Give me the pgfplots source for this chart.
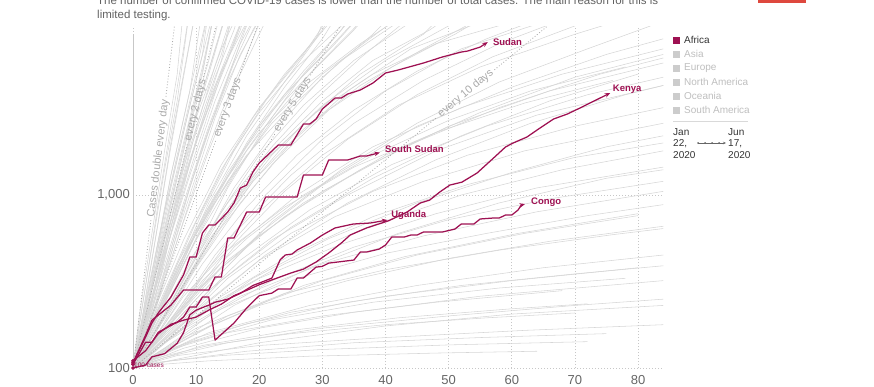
\documentclass[border=0pt]{standalone}
\usepackage{fontspec}
\setmainfont{Liberation Sans}
\usepackage{pgfplots}
\pgfplotsset{compat=1.18}
\usetikzlibrary{arrows.meta}
\definecolor{afr}{RGB}{158,17,82}
\definecolor{gl}{RGB}{214,214,214}
\definecolor{dbl}{RGB}{170,170,170}
\definecolor{tickc}{RGB}{102,102,102}
\definecolor{legg}{RGB}{190,190,190}
\pgfplotsset{gls/.style={color=gl, line width=0.55pt, line join=round, forget plot},
  afrs/.style={color=afr, line width=1.25pt, line join=round, -{Stealth[length=5.5pt,width=4.5pt]}},
  dbls/.style={color=dbl, line width=0.8pt, dash pattern=on 0.9pt off 2pt}}
\newcommand\g[1]{\addplot[gls] coordinates {#1};}
\begin{document}
\begin{tikzpicture}
\useasboundingbox (0,0) rectangle (874pt,-386pt);
\clip (0,0) rectangle (874pt,-386pt);
\node[anchor=base west, inner sep=0, font=\fontsize{11.5}{13}\selectfont, text=black!62] at (97pt,-4pt) {The number of confirmed COVID-19 cases is lower than the number of total cases. The main reason for this is};
\node[anchor=base west, inner sep=0, font=\fontsize{11.5}{13}\selectfont, text=black!62] at (97pt,-18pt) {limited testing.};
\fill[fill={rgb,255:red,222;green,72;blue,62}] (758pt,0pt) rectangle (806pt,-3pt);
\begin{axis}[
  at={(133pt,-368pt)}, anchor=south west,
  scale only axis, width=530.25pt, height=341.3pt,
  xmin=0, xmax=84, ymode=log, ymin=100, ymax=9400,
  clip mode=individual,
  axis line style={draw=none},
  major tick length=0pt, minor tick length=0pt, tick pos=left,
  xtick={0,10,...,80}, ytick={100,1000}, yticklabels={100,{1,000}},
  xmajorgrids, ymajorgrids,
  grid style={color=black!22, line width=0.6pt, dash pattern=on 1pt off 2pt},
  ticklabel style={font=\fontsize{13}{13}\selectfont, text=tickc},
  /pgf/number format/assume math mode=true,
  xticklabel style={anchor=north, inner sep=0pt, yshift=-7pt},
  yticklabel style={anchor=east, inner sep=0pt, xshift=-3pt},
]
% ---------- grey lines: steep group
\g{(0,100)(2,250)(4,700)(6,2000)(8,5000)(10,12000)}
\g{(0,100)(2,200)(4,500)(6,1300)(9,4000)(12,12000)}
\g{(0,100)(3,300)(5,700)(8,2000)(11,5500)(13,12000)}
\g{(0,100)(2,180)(5,500)(8,1500)(11,4000)(15,12000)}
\g{(0,100)(3,250)(6,800)(9,2200)(12,5000)(15,12000)}
\g{(0,100)(2,160)(4,350)(7,1000)(10,2800)(14,7000)(17,12000)}
\g{(0,100)(3,220)(6,600)(10,1800)(14,5000)(18,12000)}
\g{(0,100)(1,180)(3,500)(5,1400)(7,3500)(9,12000)}
\g{(0,100)(4,400)(7,1100)(10,3000)(13,7000)(15,12000)}
\g{(0,100)(3,180)(6,450)(9,1100)(13,3000)(17,7500)(20,12000)}
\g{(0,100)(2,140)(5,350)(9,1000)(13,2800)(17,6500)(21,12000)}
\g{(0,100)(4,300)(8,900)(12,2500)(16,6000)(19,12000)}
\g{(0,100)(1,130)(3,300)(6,900)(9,2500)(12,6000)(14,12000)}
\g{(0,100)(2,230)(5,800)(8,2300)(11,6500)(12,12000)}
\g{(0,100)(3,350)(6,1300)(9,4000)(11,12000)}
\g{(0,100)(5,450)(9,1300)(13,3500)(17,8000)(19,12000)}
\g{(0,100)(4,250)(8,700)(12,1800)(16,4200)(20,8500)(22,12000)}
\g{(0,100)(2,190)(4,420)(7,1100)(11,3200)(14,6500)(16,12000)}
\g{(0,100)(3,260)(6,700)(9,1800)(13,4800)(16,9000)(17,12000)}
\g{(0,100)(1,150)(2,260)(4,700)(6,1900)(8,4800)(10,12000)}
\g{(0,100)(4,350)(7,900)(11,2600)(15,6000)(18,12000)}
\g{(0,100)(2,170)(6,650)(10,2000)(14,5200)(18,10000)(19,12000)}
\g{(0,100)(3,200)(7,650)(11,1900)(15,4500)(19,9000)(21,12000)}
\g{(0,100)(5,600)(8,1800)(11,5000)(13,12000)}
\g{(0,100)(2,300)(4,900)(6,2500)(8,7000)(9,12000)}
\g{(0,100)(2,210)(5,650)(8,1900)(11,5200)(13,12000)}
\g{(0,100)(3,240)(7,800)(10,2100)(14,6000)(16,12000)}
\g{(0,100)(1,160)(4,550)(7,1700)(10,5000)(12,12000)}
\g{(0,100)(4,280)(8,850)(12,2400)(16,5800)(20,12000)}
\g{(0,100)(3,330)(6,1100)(9,3300)(12,9000)(13,12000)}
\g{(0,100)(2,200)(5,550)(9,1600)(13,4200)(17,9000)(18,12000)}
\g{(0,100)(6,420)(10,1200)(14,3000)(18,6500)(21,12000)}
\g{(0,100)(1,200)(3,600)(5,1800)(7,5000)(8,12000)}
\g{(0,100)(2,150)(5,420)(8,1200)(12,3500)(16,8000)(18,12000)}
\g{(0,100)(4,330)(7,900)(10,2400)(13,5600)(16,12000)}
% ---------- grey lines: middle group
\g{(0,100)(4,200)(8,400)(13,900)(18,1800)(24,3500)(30,6000)(36,10000)}
\g{(0,100)(5,250)(10,600)(15,1300)(20,2500)(26,4500)(32,7500)(37,12000)}
\g{(0,100)(3,180)(7,380)(12,800)(18,1700)(25,3200)(33,6000)(42,10000)(45,12000)}
\g{(0,100)(6,300)(11,800)(16,1800)(21,3500)(27,6500)(32,12000)}
\g{(0,100)(4,170)(9,350)(15,800)(22,1700)(30,3300)(40,6000)(50,9500)}
\g{(0,100)(5,200)(10,450)(16,1100)(23,2500)(30,4800)(38,8500)(42,12000)}
\g{(0,100)(3,200)(8,550)(14,1500)(20,3200)(26,6000)(30,9000)(32,12000)}
\g{(0,100)(7,350)(12,900)(18,2200)(24,4500)(29,8000)(31,12000)}
\g{(0,100)(4,160)(10,380)(17,900)(25,2000)(34,4000)(44,7000)(55,10000)}
\g{(0,100)(6,220)(12,520)(19,1200)(27,2600)(36,5000)(46,8500)(50,12000)}
\g{(0,100)(3,150)(8,330)(14,750)(21,1600)(29,3000)(38,5000)(48,7500)(60,10000)}
\g{(0,100)(5,270)(10,700)(15,1600)(20,3000)(26,5500)(33,9500)(35,12000)}
\g{(0,100)(4,230)(9,600)(14,1400)(19,2800)(24,5000)(29,8000)(33,12000)}
\g{(0,100)(8,300)(15,800)(22,1800)(30,3500)(38,6000)(47,9000)(52,12000)}
\g{(0,100)(2,140)(7,400)(13,1000)(20,2300)(28,4500)(36,7500)(43,11000)}
\g{(0,100)(6,190)(13,450)(21,1000)(30,2100)(40,4000)(52,7000)(65,10000)}
\g{(0,100)(5,160)(12,380)(20,800)(30,1700)(42,3300)(55,5500)(70,8500)(80,11000)}
\g{(0,100)(9,400)(15,1100)(21,2500)(27,5000)(33,9000)(35,12000)}
\g{(0,100)(4,200)(10,550)(16,1300)(22,2700)(28,5000)(35,9000)(38,12000)}
\g{(0,100)(7,260)(14,650)(22,1500)(31,3100)(41,5500)(51,8500)(58,12000)}
\g{(0,100)(6,230)(12,550)(19,1200)(27,2400)(36,4300)(46,7000)(56,11000)}
\g{(0,100)(5,180)(11,400)(18,850)(26,1700)(35,3100)(45,5200)(56,8000)(66,11000)}
\g{(0,100)(8,240)(16,600)(25,1300)(35,2600)(46,4600)(58,7500)(70,11000)}
\g{(0,100)(4,190)(9,420)(15,900)(22,1900)(29,3600)(36,6200)(43,10000)}
\g{(0,100)(7,200)(15,480)(24,1050)(34,2100)(45,3800)(57,6300)(70,9500)(76,11500)}
\g{(0,100)(5,240)(10,600)(15,1350)(21,2800)(27,5200)(33,9000)(36,12000)}
\g{(0,100)(3,170)(7,380)(12,850)(18,1900)(24,3800)(31,7000)(37,12000)}
\g{(0,100)(6,280)(12,800)(18,2000)(24,4200)(30,8000)(33,12000)}
\g{(0,100)(4,220)(9,520)(15,1200)(22,2600)(30,5000)(39,8800)(44,12000)}
\g{(0,100)(8,320)(14,800)(20,1700)(27,3300)(35,6000)(44,10000)}
% ---------- grey lines: slow group
\g{(0,100)(6,180)(14,380)(24,750)(36,1400)(50,2500)(66,4000)(84,5800)}
\g{(0,100)(5,150)(12,280)(22,550)(34,1000)(48,1800)(64,2900)(84,4300)}
\g{(0,100)(8,220)(16,500)(26,1000)(38,1900)(52,3200)(68,5000)(84,7000)}
\g{(0,100)(4,130)(11,230)(20,420)(32,750)(46,1200)(62,1800)(84,2600)}
\g{(0,100)(7,170)(15,330)(25,600)(38,1050)(53,1700)(70,2500)(84,3200)}
\g{(0,100)(5,140)(13,240)(24,400)(37,650)(52,1000)(68,1400)(84,1800)}
\g{(0,100)(10,250)(20,600)(32,1300)(45,2500)(60,4200)(75,6500)(84,8000)}
\g{(0,100)(6,160)(14,320)(25,650)(38,1250)(52,2200)(66,3500)(80,5000)}
\g{(0,100)(3,120)(10,200)(20,330)(33,520)(48,780)(64,1100)(84,1450)}
\g{(0,100)(8,200)(17,420)(28,820)(41,1500)(56,2500)(72,3800)(84,4800)}
\g{(0,100)(5,130)(12,200)(22,320)(35,500)(50,720)(66,950)(84,1200)}
\g{(0,100)(6,190)(15,420)(27,900)(40,1700)(55,3000)(70,4800)(84,6500)}
\g{(0,100)(9,180)(19,330)(31,560)(45,900)(60,1350)(75,1900)(84,2200)}
\g{(0,100)(4,150)(10,280)(19,550)(30,1050)(43,1900)(58,3200)(74,5000)(84,6200)}
\g{(0,100)(7,140)(16,230)(28,380)(42,600)(58,900)(75,1250)(84,1400)}
\g{(0,100)(12,300)(22,700)(33,1400)(45,2600)(58,4500)(72,7000)(82,9500)}
\g{(0,100)(5,170)(11,320)(18,560)(27,1000)(38,1700)(50,2700)(63,4000)(78,5500)}
\g{(0,100)(3,140)(8,260)(15,480)(24,850)(35,1450)(48,2300)(62,3400)(76,4600)}
\g{(0,100)(10,210)(21,450)(34,900)(48,1600)(63,2600)(78,3800)(84,4300)}
\g{(0,100)(6,150)(14,260)(25,450)(38,750)(53,1150)(70,1650)(84,2000)}
% ---------- grey lines: flat group
\g{(0,100)(5,115)(15,140)(30,170)(50,200)(70,230)(84,250)}
\g{(0,100)(8,130)(20,170)(35,210)(55,260)(75,300)(84,320)}
\g{(0,100)(10,150)(25,210)(40,260)(60,320)(80,380)}
\g{(0,100)(6,110)(18,125)(35,140)(55,150)(75,158)}
\g{(0,100)(12,160)(28,230)(45,300)(65,380)(84,450)}
\g{(0,100)(5,125)(15,160)(30,200)(48,240)(68,280)}
\g{(0,100)(7,118)(20,135)(40,150)(62,165)(84,178)}
\g{(0,100)(9,140)(22,190)(38,240)(58,290)(78,330)}
\g{(0,100)(4,108)(14,118)(30,128)(50,136)(72,142)}
\g{(0,100)(10,170)(24,270)(40,370)(58,480)(76,590)(84,640)}
\g{(0,100)(6,130)(18,180)(34,240)(52,300)(70,350)(84,390)}
\g{(0,100)(15,200)(30,320)(45,450)(62,600)(80,760)}
\g{(0,100)(3,104)(12,110)(28,117)(48,122)(64,125)}
\g{(0,100)(8,150)(20,230)(34,320)(50,430)(66,540)(84,660)}
\g{(0,100)(11,135)(25,165)(42,195)(60,220)(72,235)}
\g{(0,100)(5,140)(14,220)(26,330)(40,460)(56,600)(72,760)(84,880)}
\g{(0,100)(20,140)(40,175)(60,205)(84,230)}
\g{(0,100)(7,160)(17,260)(30,400)(46,580)(64,800)(84,1050)}
\g{(0,100)(13,180)(27,300)(43,440)(61,600)(80,780)}
\g{(0,100)(4,115)(12,135)(25,158)(40,178)(56,195)(70,208)}
% ---------- doubling guide lines
\addplot[dbls] coordinates {(0,100)(2.85,721)};
\addplot[dbls] coordinates {(5.21,3701)(7,12800)};
\addplot[dbls] coordinates {(0,100)(8.62,1984)};
\addplot[dbls] coordinates {(11.18,4817)(14,12800)};
\addplot[dbls] coordinates {(0,100)(13.15,2087)};
\addplot[dbls] coordinates {(16.85,4907)(21,12800)};
\addplot[dbls] coordinates {(0,100)(22.49,2260)};
\addplot[dbls] coordinates {(28.11,4925)(35,12800)};
\addplot[dbls] coordinates {(0,100)(48.14,2813)};
\addplot[dbls] coordinates {(57.26,5293)(70,12800)};
\begin{scope}[every node/.style={text=dbl, font=\fontsize{11}{11}\selectfont, inner sep=0pt}]
\node[rotate=83.1] at (axis cs:4.03,1633) {Cases double every day};
\node[rotate=76.4] at (axis cs:9.9,3091) {every 2 days};
\node[rotate=70.0] at (axis cs:15,3200) {every 3 days};
\node[rotate=58.8] at (axis cs:25.3,3336) {every 5 days};
\node[rotate=39.5] at (axis cs:52.7,3858) {every 10 days};
\end{scope}
% ---------- left axis line
\draw[black!22, line width=0.8pt] (axis cs:0,100) -- (axis cs:0,8400);
% ---------- highlighted countries
\addplot[afrs] coordinates {(0,107)(2,151)(3,182)(4,208)(6,257)(8,345)(9,438)(10,438)(11,603)(12,671)(13,671)(15,797)(16,899)(17,1097)(18,1142)(19,1358)(20,1531)(23,1945)(25,1945)(27,2573)(28,2573)(29,2749)(30,3141)(32,3637)(33,3637)(34,3837)(36,4045)(38,4439)(40,5073)(42,5281)(46,5795)(49,6280)(52,6709)(53,6797)(55,7168)(56.2,7663)};
\addplot[afrs] coordinates {(0,107)(2,155)(3,189)(6,231)(8,282)(12,282)(13,336)(14,336)(15,564)(16,564)(18,797)(20,797)(21,973)(26,973)(27,1305)(30,1305)(31,1594)(34,1594)(36,1680)(37,1680)(39.1,1760)};
\addplot[afrs] coordinates {(0,110)(2,126)(4,158)(6,179)(8,189)(10,197)(12,216)(14,234)(16,262)(18,281)(20,303)(22,323)(25,354)(27,373)(29,410)(31,462)(33,528)(34.4,587)(37,645)(40.5,710)(43.4,797)(45.5,899)(47,935)(48.6,1041)(50.2,1142)(52.1,1187)(54.5,1340)(57.3,1660)(59,1894)(60.2,1998)(62.4,2164)(64,2374)(66.6,2749)(68.8,2939)(70.8,3184)(75.6,3890)};
\addplot[afrs] coordinates {(0,100)(2,104)(3,116)(5,121)(7,139)(8,160)(9,203)(10,216)(12,231)(13,240)(15,250)(17,270)(19,300)(21,320)(22,331)(23.3,421)(24.1,450)(25.2,456)(26,481)(28.1,528)(30,587)(32,645)(34.9,680)(37.6,689)(40.3,717)};
\addplot[afrs] coordinates {(0,105)(2,141)(3,141)(4,161)(7,184)(8,197)(9,225)(10,225)(11,257)(12,257)(13,145)(16,182)(18,222)(20,262)(22,271)(23,286)(25,286)(26,331)(27,331)(29,383)(30,387)(31,404)(35,421)(36,468)(37,468)(39,487)(40,514)(41,572)(43,572)(44,587)(45,587)(46,611)(49,611)(51,636)(52,680)(54,680)(55,727)(57,736)(58,736)(59,766)(60,766)(61,819)(61.5,875)(62.1,887)};
\addplot[afr, only marks, mark=*, mark size=1.7pt] coordinates {(0,100)(0,105)(0,107)(0,110)};
\begin{scope}[every node/.style={text=afr, font=\bfseries\fontsize{9.5}{10}\selectfont, inner sep=0pt, anchor=west}]
\node at (axis cs:57.0,7660) {Sudan};
\node at (axis cs:39.9,1845) {South Sudan};
\node at (axis cs:76.0,4100) {Kenya};
\node at (axis cs:40.9,766) {Uganda};
\node at (axis cs:63.05,912) {Congo};
\end{scope}
\end{axis}
\node[anchor=west, inner sep=0, text=afr, font=\fontsize{6.5}{7}\selectfont] at (134pt,-365pt) {100 cases};
% ---------- legend
\begin{scope}[every node/.style={anchor=west, inner sep=0pt, font=\fontsize{10}{12}\selectfont}]
\fill[afr] (673pt,-36.5pt) rectangle (680pt,-43.5pt);
\node[text=black!80] at (684pt,-40pt) {Africa};
\fill[black!20] (673pt,-50.5pt) rectangle (680pt,-57.5pt);
\node[text=legg] at (684pt,-54pt) {Asia};
\fill[black!20] (673pt,-64.5pt) rectangle (680pt,-71.5pt);
\node[text=legg] at (684pt,-68pt) {Europe};
\fill[black!20] (673pt,-78.5pt) rectangle (680pt,-85.5pt);
\node[text=legg] at (684pt,-82pt) {North America};
\fill[black!20] (673pt,-92.5pt) rectangle (680pt,-99.5pt);
\node[text=legg] at (684pt,-96pt) {Oceania};
\fill[black!20] (673pt,-106.5pt) rectangle (680pt,-113.5pt);
\node[text=legg] at (684pt,-110pt) {South America};
\end{scope}
\draw[black!15, line width=0.8pt] (673pt,-121pt) -- (748pt,-121pt);
\node[anchor=north west, align=left, inner sep=0pt, text=black!80, font=\fontsize{10}{11.5}\selectfont] at (673pt,-128pt) {Jan\\22,\\2020};
\node[anchor=north west, align=left, inner sep=0pt, text=black!80, font=\fontsize{10}{11.5}\selectfont] at (728pt,-128pt) {Jun\\17,\\2020};
\draw[black!60, line width=0.6pt, -{Stealth[length=3pt,width=2.5pt]}] (698pt,-143pt) -- (726pt,-143pt);
\foreach \xx in {698,705,712,719} \fill[black!60] (\xx pt,-143pt) circle (1pt);
\end{tikzpicture}
\end{document}
